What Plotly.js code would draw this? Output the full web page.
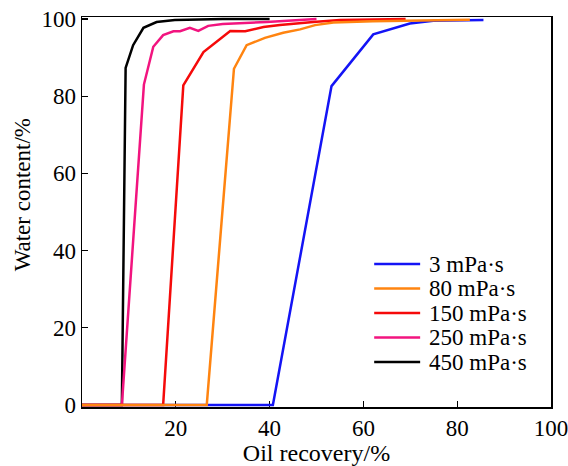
<!DOCTYPE html>
<html>
<head>
<meta charset="utf-8">
<script src="https://cdn.plot.ly/plotly-3.0.1.min.js"></script>
<style>html,body{margin:0;padding:0;background:#fff;}#chart{width:568px;height:466px;}</style>
</head>
<body>
<div id="chart"></div>
<script>
// Series names (viscosity)
var names = ['3 mPa·s', '80 mPa·s', '150 mPa·s', '250 mPa·s', '450 mPa·s'];
var colors = ['#1414f5', '#ff8410', '#f50a0a', '#f2147f', '#000000'];

// Oil recovery (%) and water content (%) for each viscosity
var x3   = [0, 40.7, 53.2, 62.1, 69.9, 74.9, 85.6];
var y3   = [0, 0, 82.6, 96.0, 98.8, 99.5, 99.7];

var x80  = [0, 26.6, 32.4, 35.1, 39.0, 42.9, 46.5, 49.7, 53.6, 62.0, 82.7];
var y80  = [0, 0, 87.1, 93.2, 95.1, 96.4, 97.3, 98.4, 99.1, 99.4, 99.8];

var x150 = [0, 17.3, 21.6, 25.9, 31.6, 34.8, 38.7, 42.2, 49.3, 55.0, 69.0];
var y150 = [0, 0, 82.8, 91.4, 96.9, 96.8, 97.9, 98.4, 99.2, 99.7, 100];

var x250 = [0, 8.5, 13.2, 15.2, 17.3, 19.5, 20.9, 23.0, 24.8, 26.9, 30.0, 39.4, 50.0];
var y250 = [0, 0, 83.0, 92.8, 95.8, 96.8, 96.8, 97.7, 96.9, 98.2, 98.7, 99.2, 100];

var x450 = [0, 8.5, 9.3, 10.9, 13.1, 15.9, 19.8, 30.0, 40.0];
var y450 = [0, 0, 87.3, 93.2, 97.7, 99.2, 99.7, 100, 100];

var xs = [x3, x80, x150, x250, x450];
var ys = [y3, y80, y150, y250, y450];

var xTicks = [20, 40, 60, 80, 100];
var yTicks = [0, 20, 40, 60, 80, 100];

// draw order: blue, black, pink, red, orange (orange on top)
var drawOrder = [0, 4, 3, 2, 1];
var traces = drawOrder.map(function (i) {
  return {
    x: xs[i], y: ys[i], type: 'scatter', mode: 'lines', name: names[i],
    line: {color: colors[i], width: 2.5}, showlegend: false
  };
});

var font = 'Liberation Serif, Times New Roman, serif';

// custom legend (rows packed like the reference)
var annotations = [], shapes = [];
for (var k = 0; k < names.length; k++) {
  var yp = (407 - (264 + 24.5 * k)) / 390;
  annotations.push({
    xref: 'paper', yref: 'paper', x: 0.736, y: yp, xanchor: 'left', yanchor: 'middle',
    text: names[k], showarrow: false, font: {family: font, size: 23, color: '#000'}
  });
  shapes.push({
    type: 'line', xref: 'paper', yref: 'paper', x0: 0.623, x1: 0.721, y0: yp, y1: yp,
    line: {color: colors[k], width: 2.5}
  });
}
// y axis title (placed like the reference, slightly above centre)
annotations.push({
  xref: 'paper', yref: 'paper', x: -0.126, y: 0.545, xanchor: 'center', yanchor: 'middle',
  textangle: -90, text: 'Water content/%', showarrow: false,
  font: {family: font, size: 23, color: '#000'}
});

var layout = {
  width: 568, height: 466,
  margin: {l: 82, r: 17, t: 17, b: 59},
  paper_bgcolor: '#fff', plot_bgcolor: '#fff',
  showlegend: false,
  font: {family: font, size: 23, color: '#000'},
  xaxis: {
    range: [0, 100], tickvals: xTicks, ticktext: xTicks.map(String),
    ticks: 'inside', ticklen: 6, tickwidth: 1.3, tickcolor: '#000',
    showline: true, mirror: true, linecolor: '#000', linewidth: 1.5,
    showgrid: false, zeroline: false, layer: 'below traces',
    ticklabeloverflow: 'allow',
    tickfont: {family: font, size: 23, color: '#000'},
    title: {text: 'Oil recovery/%', font: {family: font, size: 24, color: '#000'}, standoff: 7}
  },
  yaxis: {
    range: [-0.5, 100.5], tickvals: yTicks, ticktext: yTicks.map(String),
    ticks: 'inside', ticklen: 6, tickwidth: 1.3, tickcolor: '#000',
    showline: true, mirror: true, linecolor: '#000', linewidth: 1.5,
    showgrid: false, zeroline: false, layer: 'below traces',
    tickfont: {family: font, size: 23, color: '#000'}
  },
  annotations: annotations,
  shapes: shapes
};

Plotly.newPlot('chart', traces, layout, {displayModeBar: false, staticPlot: true});
</script>
</body>
</html>
